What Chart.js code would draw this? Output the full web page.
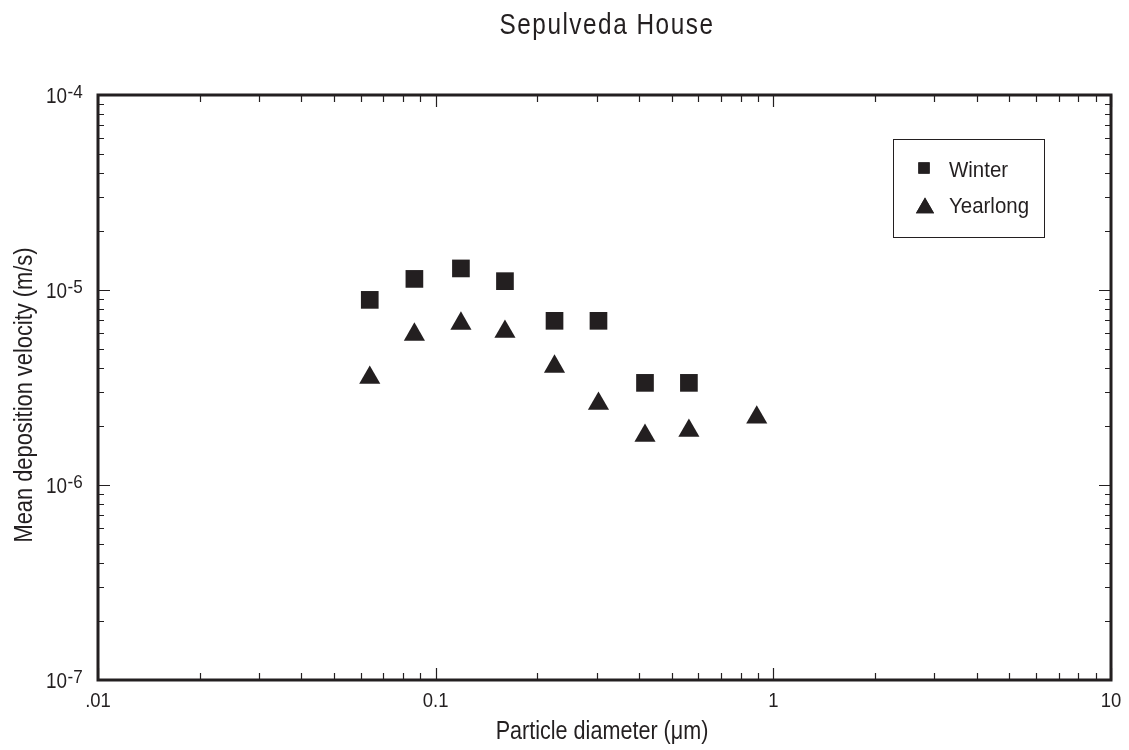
<!DOCTYPE html>
<html>
<head>
<meta charset="utf-8">
<script src="https://cdn.jsdelivr.net/npm/chart.js@4.4.1/dist/chart.umd.min.js"></script>
<style>
  html, body { margin: 0; padding: 0; background: #fff; }
  #wrap { position: relative; width: 1129px; height: 750px; }
</style>
</head>
<body>
<div id="wrap"><canvas id="chart" width="1129" height="750"></canvas></div>
<script>
// values
const winterDiam = [0.0638, 0.0865, 0.1188, 0.1604, 0.2249, 0.3035, 0.4168, 0.5623];
const winterVel  = [8.9e-6, 1.14e-5, 1.29e-5, 1.11e-5, 6.95e-6, 6.95e-6, 3.34e-6, 3.34e-6];
const yearDiam   = [0.0638, 0.0865, 0.1188, 0.1604, 0.2249, 0.3035, 0.4168, 0.5623, 0.893];
const yearVel    = [3.55e-6, 5.91e-6, 6.73e-6, 6.12e-6, 4.05e-6, 2.61e-6, 1.79e-6, 1.90e-6, 2.22e-6];
const xTicks     = [0.01, 0.1, 1, 10];
const xTickLabels = [".01", "0.1", "1", "10"];
const yExponents = [-7, -6, -5, -4];

const INK = "#231f20";
const FONT = '"Liberation Sans", Arial, sans-serif';

const toPoints = (xs, ys) => xs.map((x, i) => ({ x, y: ys[i] }));

// minor ticks 2..9 within each decade
function logTicks(min, max) {
  const out = [];
  for (let d = Math.log10(min); d < Math.log10(max); d++) {
    const base = Math.pow(10, d);
    for (let m = 1; m < 10; m++) out.push({ v: base * m, major: m === 1 });
  }
  out.push({ v: max, major: true });
  return out;
}

// condensed look: draw Liberation Sans squeezed horizontally
function text(ctx, str, x, y, size, align, sx = 0.84, ls = 0) {
  ctx.save();
  ctx.font = size + "px " + FONT;
  ctx.letterSpacing = ls + "px";
  ctx.textAlign = "left";
  ctx.textBaseline = "alphabetic";
  const w = ctx.measureText(str).width * sx;
  const left = align === "center" ? x - w / 2 : align === "right" ? x - w : x;
  ctx.translate(left, y);
  ctx.scale(sx, 1);
  ctx.fillText(str, 0, 0);
  ctx.restore();
  return w;
}

const framePlugin = {
  id: "frame",
  afterDatasetsDraw(chart) {
    const { ctx, chartArea: a, scales: { x, y } } = chart;
    ctx.save();
    ctx.strokeStyle = INK;
    ctx.fillStyle = INK;

    // inward ticks on all four sides
    ctx.lineWidth = 1.2;
    ctx.beginPath();
    logTicks(x.min, x.max).forEach(t => {
      const px = Math.round(x.getPixelForValue(t.v)) + 0.5;
      const len = t.major ? 12 : 7;
      ctx.moveTo(px, a.bottom); ctx.lineTo(px, a.bottom - len);
      ctx.moveTo(px, a.top); ctx.lineTo(px, a.top + len);
    });
    logTicks(y.min, y.max).forEach(t => {
      const py = Math.round(y.getPixelForValue(t.v)) + 0.5;
      const len = t.major ? 12 : 6;
      ctx.moveTo(a.left, py); ctx.lineTo(a.left + len, py);
      ctx.moveTo(a.right, py); ctx.lineTo(a.right - len, py);
    });
    ctx.stroke();

    // frame
    ctx.lineWidth = 3;
    ctx.strokeRect(a.left, a.top, a.right - a.left, a.bottom - a.top);

    // x tick labels
    xTicks.forEach((v, i) => text(ctx, xTickLabels[i], x.getPixelForValue(v), a.bottom + 27, 21, "center", 0.88));

    // y tick labels: 10 with raised exponent
    yExponents.forEach(e => {
      const py = y.getPixelForValue(Math.pow(10, e));
      text(ctx, "10", a.left - 31, py + 7.5, 22, "right", 0.86);
      text(ctx, String(e), a.left - 30.5, py + 3, 18, "left", 0.95);
    });

    // titles
    text(ctx, "Sepulveda House", 607, 34, 29, "center", 0.84, 1.8);
    text(ctx, "Particle diameter (\u03bcm)", 602, 739, 26, "center", 0.83);
    ctx.save();
    ctx.translate(32, 395);
    ctx.rotate(-Math.PI / 2);
    text(ctx, "Mean deposition velocity (m/s)", 0, 0, 26, "center", 0.84);
    ctx.restore();

    // legend
    ctx.lineWidth = 1;
    ctx.strokeRect(893.5, 139.5, 151, 98);
    Chart.helpers.drawPoint(ctx, { pointStyle: "rect", radius: 8, borderWidth: 0, rotation: 0 }, 924, 168);
    ctx.fill();
    Chart.helpers.drawPoint(ctx, { pointStyle: "triangle", radius: 10.5, borderWidth: 0, rotation: 0 }, 925, 208);
    ctx.fill();
    text(ctx, "Winter", 949, 177, 22, "left", 0.93);
    text(ctx, "Yearlong", 949, 213, 22, "left", 0.93);
    ctx.restore();
  }
};

new Chart(document.getElementById("chart"), {
  type: "scatter",
  data: {
    datasets: [
      {
        label: "Winter",
        data: toPoints(winterDiam, winterVel),
        pointStyle: "rect",
        pointRadius: 12.5,
        pointHoverRadius: 12.5,
        backgroundColor: INK,
        borderWidth: 0
      },
      {
        label: "Yearlong",
        data: toPoints(yearDiam, yearVel),
        pointStyle: "triangle",
        pointRadius: 12.2,
        pointHoverRadius: 12.2,
        backgroundColor: INK,
        borderWidth: 0
      }
    ]
  },
  options: {
    responsive: false,
    animation: false,
    layout: { padding: { left: 98, right: 18, top: 95, bottom: 70 } },
    scales: {
      x: { type: "logarithmic", min: 0.01, max: 10, display: false },
      y: { type: "logarithmic", min: 1e-7, max: 1e-4, display: false }
    },
    plugins: {
      legend: { display: false },
      tooltip: { enabled: false }
    }
  },
  plugins: [framePlugin]
});
</script>
</body>
</html>
